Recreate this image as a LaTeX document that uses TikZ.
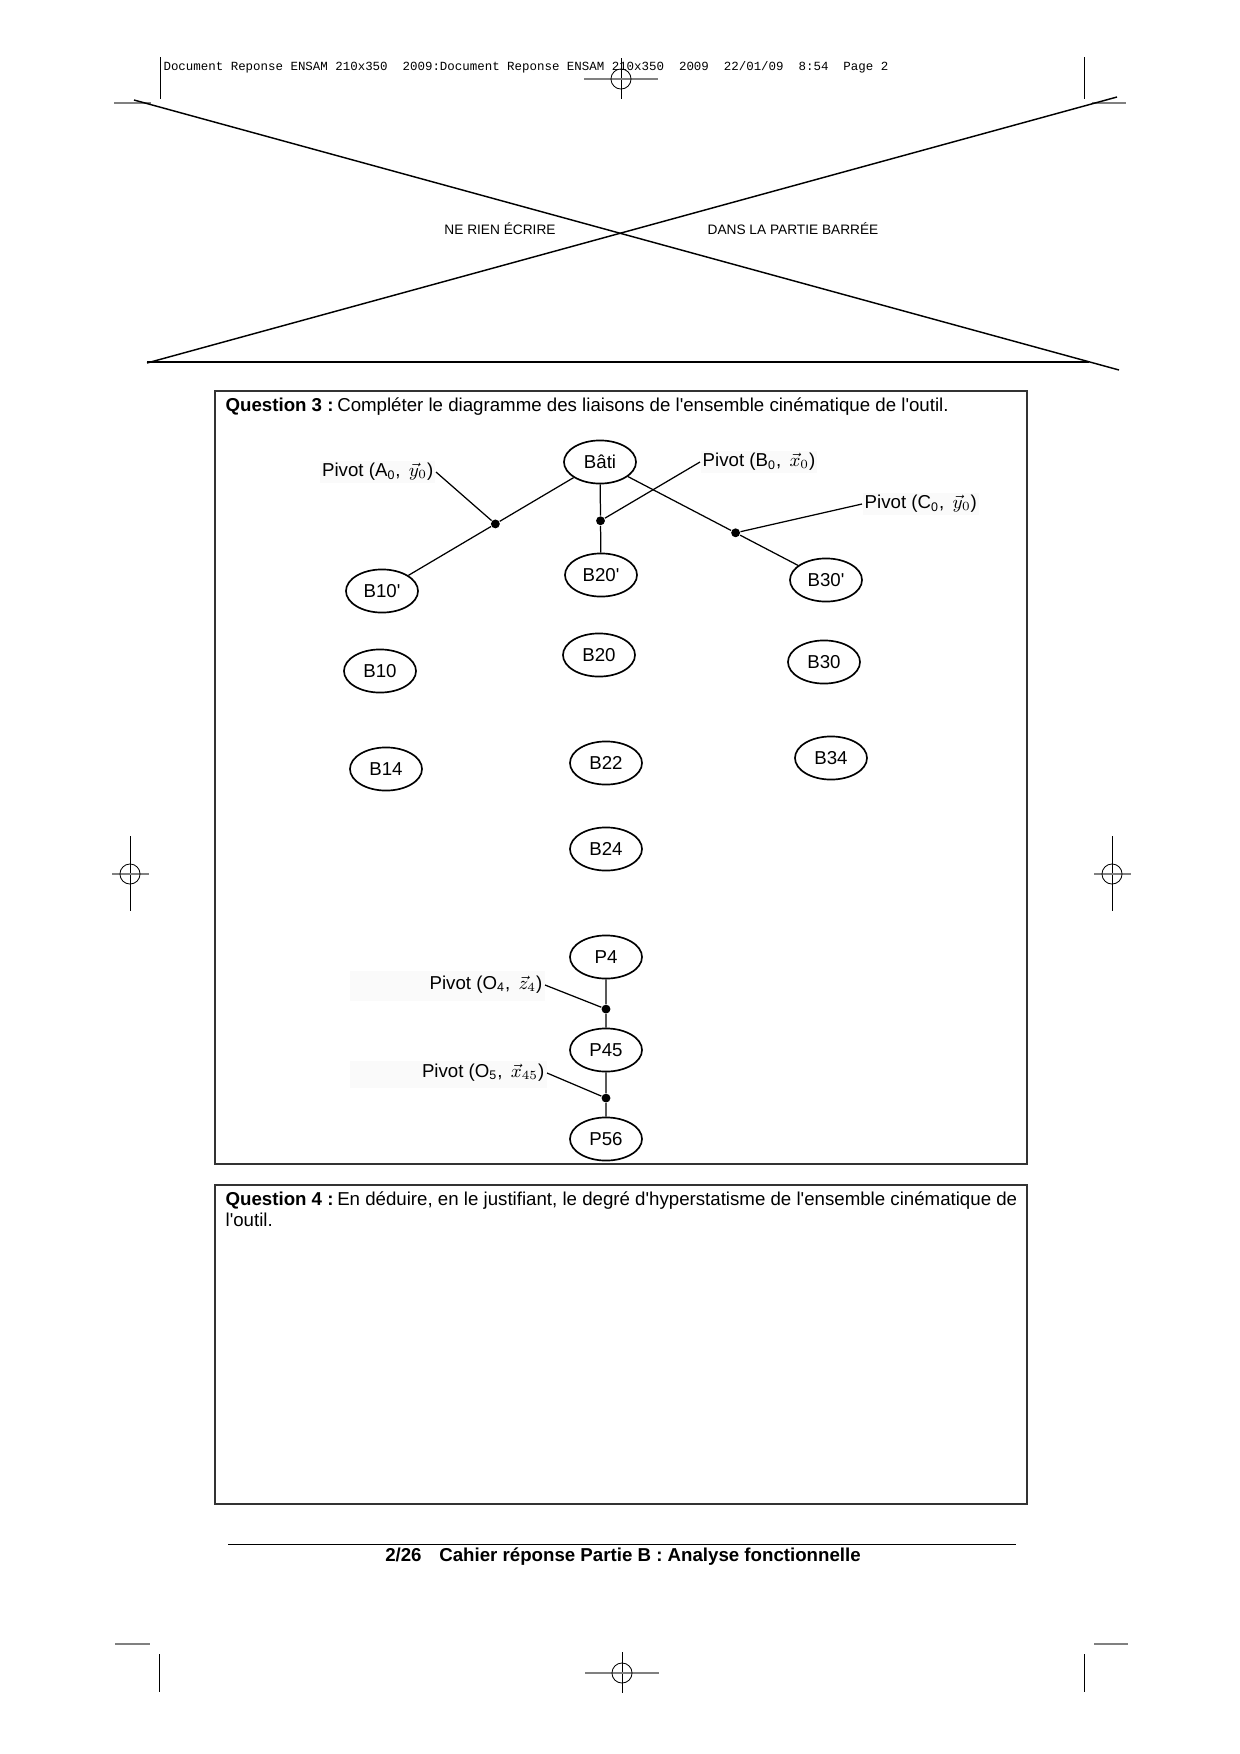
\documentclass[tikz,border=0pt]{standalone}
\usepackage{fontspec}
\setmainfont{Liberation Sans}[Ligatures=TeXOff]
\newfontfamily\headfont{Liberation Mono}
\usetikzlibrary{shapes.geometric,calc}

\begin{document}
\begin{tikzpicture}[x=0.169355mm, y=-0.169355mm, line width=0.6pt,
    every node/.style={font=\fontsize{9}{10.1}\selectfont},
    piece/.style={draw, ellipse, line width=0.8pt, minimum width=12.2mm, minimum height=7.3mm, inner sep=0pt},
    joint/.style={circle, fill=black, inner sep=0pt, minimum size=1.5mm},
    pivotlbl/.style={fill=black!2, inner sep=1pt},
    cropline/.style={line width=0.4pt},
    regline/.style={gray, line width=1pt},
    boxline/.style={draw=black!80, line width=0.6pt}]
    \useasboundingbox (0,0) rectangle (1240,1754);

    % Crop marks
    \draw[cropline] (160,57) -- (160,99);
    \draw[cropline] (1084,57) -- (1084,99);
    \draw[cropline] (159,1654) -- (159,1692);
    \draw[cropline] (1084,1654) -- (1084,1692);
    \draw[regline] (114,103) -- (151,103);
    \draw[regline] (1092,103) -- (1126,103);
    \draw[regline] (115,1644) -- (150,1644);
    \draw[regline] (1094,1644) -- (1128,1644);

    % Registration marks
    \foreach \x/\y in {621/79, 622/1673} {
        \draw[cropline] (\x,\y-21) -- (\x,\y+20);
        \draw[regline] (\x-37,\y) -- (\x+37,\y);
        \draw[cropline] (\x,\y) circle[radius=1.7mm];
    }
    \foreach \x/\y in {130/874, 1112/874} {
        \draw[cropline] (\x,\y-38) -- (\x,\y+37);
        \draw[regline] (\x-18,\y) -- (\x+19,\y);
        \draw[cropline] (\x,\y) circle[radius=1.7mm];
    }

    % Header
    \node[anchor=base west, font=\headfont\fontsize{6}{7}\selectfont] (head) at (156,71)
        {Document Reponse ENSAM 210x350~~2009:Document Reponse ENSAM 210x350~~2009~~22/01/09~~8:54~~Page 2};

    % Barred part
    \draw[line width=0.7pt] (134,100) -- (1119,370);
    \draw[line width=0.7pt] (1117,97) -- (147,363);
    \draw[line width=0.7pt] (147,362) -- (1089,362);
    \node[font=\fontsize{6.6}{8}\selectfont] (barre1) at (500,229) {NE RIEN ÉCRIRE};
    \node[font=\fontsize{6.6}{8}\selectfont] (barre2) at (793,229) {DANS LA PARTIE BARRÉE};

    % Question 3
    \draw[boxline] (215,391) rectangle (1027,1164);
    \node[anchor=base west, inner sep=0pt] (q3) at (225,411)
        {\textbf{Question 3 :}\hspace{0.2em}Compléter le diagramme des liaisons de l'ensemble cinématique de l'outil.};

    % Pieces
    \node[piece] (bati) at (600,462) {Bâti};
    \node[piece] (b10p) at (382,591) {B10'};
    \node[piece] (b20p) at (601,575) {B20'};
    \node[piece] (b30p) at (826,580) {B30'};
    \node[piece] (b10) at (380,671) {B10};
    \node[piece] (b20) at (599,655) {B20};
    \node[piece] (b30) at (824,662) {B30};
    \node[piece] (b14) at (386,769) {B14};
    \node[piece] (b22) at (606,763) {B22};
    \node[piece] (b34) at (831,758) {B34};
    \node[piece] (b24) at (606,849) {B24};
    \node[piece] (p4) at (606,957) {P4};
    \node[piece] (p45) at (606,1050) {P45};
    \node[piece] (p56) at (606,1139) {P56};

    % Joints
    \node[joint] (ja) at ($(bati)!0.48!(b10p)$) {};
    \node[joint] (jb) at ($(bati)!0.52!(b20p)$) {};
    \node[joint] (jc) at ($(bati)!0.6!(b30p)$) {};
    \node[joint] (j4) at ($(p4)!0.56!(p45)$) {};
    \node[joint] (j5) at ($(p45)!0.54!(p56)$) {};
    \draw (bati) -- (ja) -- (b10p);
    \draw (bati) -- (jb) -- (b20p);
    \draw (bati) -- (jc) -- (b30p);
    \draw (p4) -- (j4) -- (p45);
    \draw (p45) -- (j5) -- (p56);

    % Pivot labels
    \fill[black!2] (350,971) rectangle (545,1001);
    \fill[black!2] (350,1061) rectangle (547,1088);
    \node[pivotlbl, anchor=east] (la) at (436,472) {Pivot (A\textsubscript{0},\, $\vec{y}_0$)};
    \node[pivotlbl, anchor=west] (lb) at (700,462) {Pivot (B\textsubscript{0},\, $\vec{x}_0$)};
    \node[pivotlbl, anchor=west] (lc) at (862,504) {Pivot (C\textsubscript{0},\, $\vec{y}_0$)};
    \node[pivotlbl, anchor=east] (l4) at (545,985) {Pivot (O\textsubscript{4},\, $\vec{z}_4$)};
    \node[pivotlbl, anchor=east] (l5) at (547,1073) {Pivot (O\textsubscript{5},\, $\vec{x}_{45}$)};
    \draw (la.east) -- (ja);
    \draw (lb.west) -- (jb);
    \draw (lc.west) -- (jc);
    \draw (l4.east) -- (j4);
    \draw (l5.east) -- (j5);

    % Question 4
    \draw[boxline] (215,1185) rectangle (1027,1504);
    \node[anchor=north west, inner sep=0pt, align=left] (q4) at (225,1191)
        {\textbf{Question 4 :}\hspace{0.2em}En déduire, en le justifiant, le degré d'hyperstatisme de l'ensemble cinématique de\\l'outil.};

    % Footer
    \draw[line width=0.5pt] (228,1544) -- (1016,1544);
    \node (foot) at (623,1557) {\bfseries 2/26\hspace{3mm}Cahier réponse Partie B : Analyse fonctionnelle};
\end{tikzpicture}
\end{document}
